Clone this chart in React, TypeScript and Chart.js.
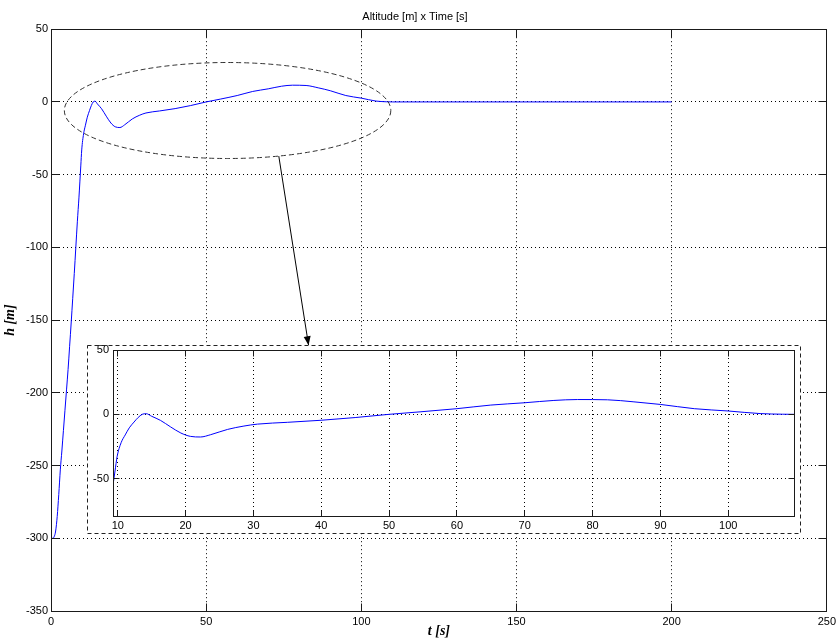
import React, { useEffect, useRef } from 'react';
import { Chart, registerables } from 'chart.js';

Chart.register(...registerables);

// ---- data ----
const time = [0, 0.5, 1, 1.5, 2, 2.5, 3, 3.5, 4, 4.5, 5, 5.5, 6, 6.5, 7, 7.5, 8, 8.5, 9, 9.3, 9.6, 9.9, 10.5, 11.1, 11.7, 12.4, 13, 13.6, 14.2, 15, 16.3, 17.8, 19.3, 20.7, 22.2, 23.7, 26.2, 28.6, 30.6, 35, 40, 45, 50, 54.7, 60, 65, 70, 74.3, 77.8, 82.2, 86.1, 90, 95, 100, 104.7, 108, 110, 150, 200];
const altitude = [-300, -300, -299, -295, -285, -270, -253, -240, -226, -212, -198, -184, -168, -152, -135, -118, -100, -82, -66, -55, -44, -33, -22, -16, -10.5, -6, -2.5, 0, 0.5, -1.5, -4.7, -9.8, -14.5, -17.1, -17.6, -15.8, -11.7, -9.1, -7.6, -6.2, -4.6, -2.5, 0, 2, 4.4, 7.2, 9, 10.8, 11.5, 11.3, 9.7, 7.7, 4.4, 2.6, 0.6, 0.1, 0, 0, 0];

const mainXTicks = [0, 50, 100, 150, 200, 250];
const mainYTicks = [-350, -300, -250, -200, -150, -100, -50, 0, 50];
const insetXTicks = [10, 20, 30, 40, 50, 60, 70, 80, 90, 100];
const insetYTicks = [-50, 0, 50];

const chartTitle = 'Altitude [m] x Time [s]';
const xLabel = 't [s]';
const yLabel = 'h [m]';

const mainXRange = [0, 250];
const mainYRange = [-350, 50];
const insetXRange = [9.3, 109.7];
const insetYRange = [-79, 50];

// zoom ellipse (data units) and arrow
const ellipseCenter = [56.9, -5.9];
const ellipseRadii = [52.6, 33];
const arrowStartT = 73.4;
const arrowEnd = [83, -167.3];

const tickFont = { family: "'Liberation Sans', Arial, sans-serif", size: 11 };
const labelFont = { family: "'Liberation Serif', 'Times New Roman', serif", size: 14, weight: 'bold' as const, style: 'italic' as const };

const points = time.map((t, i) => ({ x: t, y: altitude[i] }));

function align(p: number) {
  return Math.round(p - 0.5) + 0.5;
}

function boxPlugin(tickLen: number) {
  return {
    id: 'matlabBox',
    afterDatasetsDraw(chart: any) {
      const { ctx, chartArea: a, scales } = chart;
      const L = align(a.left), R = align(a.right), T = align(a.top), B = align(a.bottom);
      ctx.save();
      ctx.setLineDash([]);
      ctx.strokeStyle = '#1a1a1a';
      ctx.lineWidth = 1;
      ctx.beginPath();
      for (const tk of scales.x.ticks) {
        const px = align(scales.x.getPixelForValue(tk.value));
        ctx.moveTo(px, B); ctx.lineTo(px, B - tickLen);
        ctx.moveTo(px, T); ctx.lineTo(px, T + tickLen);
      }
      for (const tk of scales.y.ticks) {
        const py = align(scales.y.getPixelForValue(tk.value));
        ctx.moveTo(L, py); ctx.lineTo(L + tickLen, py);
        ctx.moveTo(R, py); ctx.lineTo(R - tickLen, py);
      }
      ctx.stroke();
      ctx.strokeRect(L, T, R - L, B - T);
      ctx.restore();
    },
  };
}

const annotationPlugin = {
  id: 'zoomAnnot',
  afterDraw(chart: any) {
    const { ctx, scales } = chart;
    const x = scales.x, y = scales.y;
    const cx = x.getPixelForValue(ellipseCenter[0]);
    const cy = y.getPixelForValue(ellipseCenter[1]);
    const rx = x.getPixelForValue(ellipseCenter[0] + ellipseRadii[0]) - cx;
    const ry = cy - y.getPixelForValue(ellipseCenter[1] + ellipseRadii[1]);
    ctx.save();
    ctx.strokeStyle = '#333';
    ctx.lineWidth = 1;
    ctx.setLineDash([5, 3]);
    ctx.beginPath();
    ctx.ellipse(cx, cy, rx, ry, 0, 0, Math.PI * 2);
    ctx.stroke();
    // arrow
    const u = (arrowStartT - ellipseCenter[0]) / ellipseRadii[0];
    const sh = ellipseCenter[1] - ellipseRadii[1] * Math.sqrt(1 - u * u);
    const sx = x.getPixelForValue(arrowStartT), sy = y.getPixelForValue(sh);
    const ex = x.getPixelForValue(arrowEnd[0]), ey = y.getPixelForValue(arrowEnd[1]);
    ctx.setLineDash([]);
    ctx.strokeStyle = '#000';
    ctx.beginPath();
    ctx.moveTo(sx, sy);
    ctx.lineTo(ex, ey);
    ctx.stroke();
    const ang = Math.atan2(ey - sy, ex - sx);
    const hl = 9, hw = 3.5;
    ctx.fillStyle = '#000';
    ctx.beginPath();
    ctx.moveTo(ex, ey);
    ctx.lineTo(ex - hl * Math.cos(ang) + hw * Math.sin(ang), ey - hl * Math.sin(ang) - hw * Math.cos(ang));
    ctx.lineTo(ex - hl * Math.cos(ang) - hw * Math.sin(ang), ey - hl * Math.sin(ang) + hw * Math.cos(ang));
    ctx.closePath();
    ctx.fill();
    ctx.restore();
  },
};

const insetFramePlugin = {
  id: 'insetFrame',
  beforeDraw(chart: any) {
    const { ctx, width, height } = chart;
    ctx.save();
    ctx.fillStyle = '#fff';
    ctx.fillRect(0, 0, width, height);
    ctx.restore();
  },
  afterDraw(chart: any) {
    const { ctx, width, height } = chart;
    ctx.save();
    ctx.strokeStyle = '#222';
    ctx.lineWidth = 1;
    ctx.setLineDash([4, 3]);
    ctx.strokeRect(0.5, 0.5, width - 1, height - 1);
    ctx.restore();
  },
};

function axisCommon(tickValues: number[]) {
  return {
    type: 'linear' as const,
    afterBuildTicks: (s: any) => {
      s.ticks = tickValues.map((v) => ({ value: v }));
    },
    grid: { color: '#000', lineWidth: 1, drawTicks: false },
    border: { display: false, dash: [1, 3] },
    ticks: { font: tickFont, color: '#000', autoSkip: false, maxRotation: 0 },
  };
}

export default function App() {
  const mainRef = useRef<HTMLCanvasElement>(null);
  const insetRef = useRef<HTMLCanvasElement>(null);

  useEffect(() => {
    const dataset = {
      data: points,
      borderColor: '#0000ff',
      borderWidth: 1,
      pointRadius: 0,
      fill: false,
      cubicInterpolationMode: 'monotone' as const,
    };

    const mainX = axisCommon(mainXTicks);
    const mainY = axisCommon(mainYTicks);
    const main = new Chart(mainRef.current!, {
      type: 'line',
      data: { datasets: [{ ...dataset }] },
      options: {
        responsive: false,
        animation: false,
        layout: { padding: { left: 0, right: 10, top: 0, bottom: 0 } },
        plugins: {
          legend: { display: false },
          tooltip: { enabled: false },
          title: {
            display: true,
            text: chartTitle,
            color: '#000',
            font: { family: "'Liberation Sans', Arial, sans-serif", size: 11, weight: 'normal' },
            padding: { top: 10, bottom: 6 },
          },
        },
        scales: {
          x: {
            ...mainX,
            min: mainXRange[0],
            max: mainXRange[1],
            ticks: { ...mainX.ticks, padding: 4 },
            title: { display: true, text: xLabel, color: '#000', font: labelFont, padding: { top: 0, bottom: 2 } },
            afterFit: (s: any) => { s.height = 31; },
          },
          y: {
            ...mainY,
            min: mainYRange[0],
            max: mainYRange[1],
            ticks: { ...mainY.ticks, padding: 3 },
            title: { display: true, text: yLabel, color: '#000', font: labelFont, padding: { top: 2, bottom: 0 } },
            afterFit: (s: any) => { s.width = 51; },
          },
        },
      },
      plugins: [boxPlugin(8), annotationPlugin],
    });

    const insX = axisCommon(insetXTicks);
    const insY = axisCommon(insetYTicks);
    const inset = new Chart(insetRef.current!, {
      type: 'line',
      data: { datasets: [{ ...dataset }] },
      options: {
        responsive: false,
        animation: false,
        layout: { padding: { left: 0, right: 7, top: 5, bottom: 0 } },
        plugins: { legend: { display: false }, tooltip: { enabled: false }, title: { display: false } },
        scales: {
          x: {
            ...insX,
            min: insetXRange[0],
            max: insetXRange[1],
            ticks: { ...insX.ticks, padding: 3 },
            afterFit: (s: any) => { s.height = 18; s.paddingLeft = 0; s.paddingRight = 0; },
          },
          y: {
            ...insY,
            min: insetYRange[0],
            max: insetYRange[1],
            ticks: { ...insY.ticks, padding: 4 },
            afterFit: (s: any) => { s.width = 26; s.paddingTop = 0; s.paddingBottom = 0; },
          },
        },
      },
      plugins: [insetFramePlugin, boxPlugin(6)],
    });

    return () => {
      main.destroy();
      inset.destroy();
    };
  }, []);

  return (
    <div style={{ position: 'fixed', left: 0, top: 0, width: 840, height: 642, background: '#fff' }}>
      <canvas ref={mainRef} width={840} height={642} style={{ position: 'absolute', left: 0, top: 0 }} />
      <canvas ref={insetRef} width={714} height={189} style={{ position: 'absolute', left: 87, top: 345 }} />
    </div>
  );
}
